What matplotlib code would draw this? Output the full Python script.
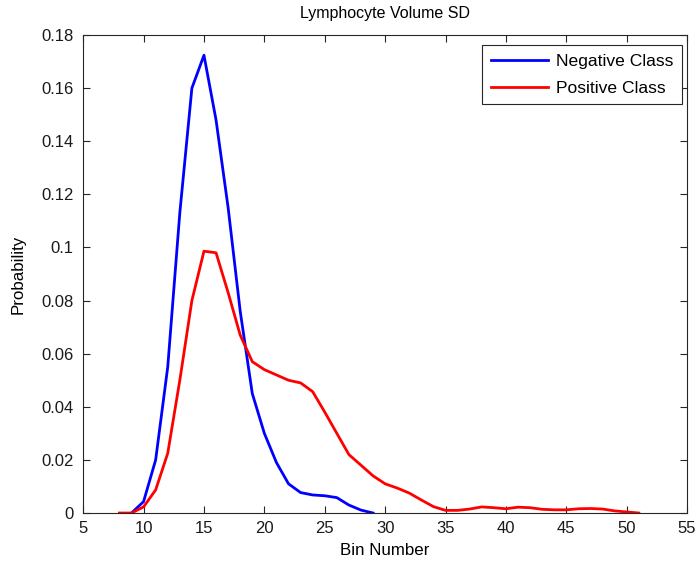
import numpy as np
import matplotlib
matplotlib.use('Agg')
import matplotlib.pyplot as plt

plt.rcParams['font.family'] = ['Liberation Sans', 'DejaVu Sans']

# 负类（蓝）
neg_bins = list(range(9, 30))
neg_prob = [0.0, 0.0043, 0.020, 0.055, 0.113, 0.160, 0.1724, 0.148, 0.115, 0.076,
            0.045, 0.030, 0.019, 0.011, 0.0077, 0.0068, 0.0065, 0.0058, 0.003, 0.0011, 0.0]

# 正类（红）
pos_bins = list(range(8, 52))
pos_prob = [0.0, 0.0, 0.0023, 0.0087, 0.0225, 0.050, 0.080, 0.0986, 0.098, 0.083,
            0.067, 0.057, 0.054, 0.052, 0.050, 0.049, 0.0457, 0.038, 0.030, 0.022,
            0.018, 0.014, 0.011, 0.0094, 0.0075, 0.0049, 0.0024, 0.001, 0.001, 0.0015,
            0.0023, 0.002, 0.0016, 0.0022, 0.002, 0.0014, 0.0012, 0.0012, 0.0016, 0.0017,
            0.0015, 0.0008, 0.0004, 0.0]

xticks = list(range(5, 60, 5))
yticks = [0, 0.02, 0.04, 0.06, 0.08, 0.1, 0.12, 0.14, 0.16, 0.18]
ytick_labels = ['0', '0.02', '0.04', '0.06', '0.08', '0.1', '0.12', '0.14', '0.16', '0.18']

fig = plt.figure(figsize=(6.99, 5.65), dpi=100)
ax = fig.add_axes([0.119, 0.092, 0.864, 0.846])

ax.plot(neg_bins, neg_prob, color='#0000ff', linewidth=2, label='Negative Class')
ax.plot(pos_bins, pos_prob, color='#ff0000', linewidth=2, label='Positive Class')

ax.set_xlim(5, 55)
ax.set_ylim(0, 0.18)
ax.set_xticks(xticks)
ax.set_yticks(yticks)
ax.set_yticklabels(ytick_labels)
ax.tick_params(direction='in', length=5, width=0.8, top=True, right=True,
               labelsize=12, colors='#262626', labelcolor='#1a1a1a')
ax.tick_params(axis='x', pad=6)
ax.tick_params(axis='y', pad=7)
for s in ax.spines.values():
    s.set_color('#262626')
    s.set_linewidth(0.8)

ax.set_xlabel('Bin Number', fontsize=12.2, labelpad=5)
ax.set_ylabel('Probability', fontsize=12.2, labelpad=11)
ax.set_title('Lymphocyte Volume SD', fontsize=11.5, pad=12)

leg = ax.legend(loc='upper right', bbox_to_anchor=(0.992, 0.979), borderaxespad=0,
                fontsize=12.6, fancybox=False, framealpha=1, edgecolor='#262626',
                handlelength=3.3, handletextpad=0.45, labelspacing=0.65, borderpad=0.5)
leg.get_frame().set_linewidth(0.8)

fig.savefig('out.png', dpi=100)
plt.close(fig)
